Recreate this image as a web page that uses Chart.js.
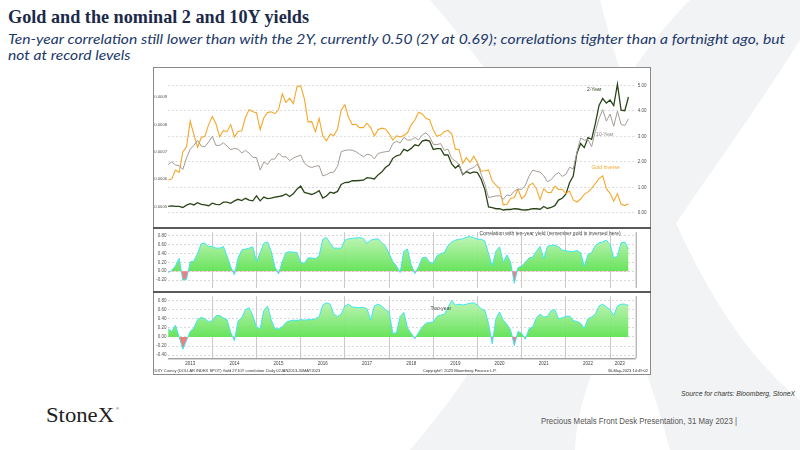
<!DOCTYPE html>
<html><head><meta charset="utf-8">
<script src="https://cdn.jsdelivr.net/npm/chart.js@4.4.0/dist/chart.umd.min.js"></script>
<style>
html,body{margin:0;padding:0;background:#fff;}
body{width:800px;height:450px;position:relative;overflow:hidden;font-family:"Liberation Sans",Arial,sans-serif;}
#wm{position:absolute;left:0;top:0;}
.t{position:absolute;white-space:nowrap;transform-origin:0 0;}
#title{left:8px;top:7px;font-family:"Liberation Serif","DejaVu Serif",serif;font-weight:bold;font-size:19px;line-height:19px;color:#1c2a4a;}
#sub1,#sub2{left:8px;font-family:Lato,"Open Sans",sans-serif;font-style:italic;font-size:14px;line-height:14px;color:#22396a;}
#sub1{top:32px;} #sub2{top:48px;}
#box{position:absolute;left:153px;top:67px;width:496px;height:306px;border:1px solid #8a8a8a;background:#fff;}
.sep{position:absolute;left:153px;width:498px;height:2px;background:#5a5a5a;}
canvas{position:absolute;}
#src{left:681px;top:390px;font-style:italic;font-size:7.5px;line-height:8px;color:#333;}
#pres{left:541px;top:417px;font-size:8.5px;line-height:9px;color:#555;}
#logo{left:46px;top:404px;font-family:"Liberation Serif",serif;font-size:22px;line-height:22px;color:#1e1e1e;}
#reg{left:116px;top:406px;font-size:4px;color:#333;}
</style></head>
<body>
<svg id="wm" width="800" height="450">
  <path fill="#f2f3f5" d="M430,0 L600,0 C640,150 700,320 800,400 L800,450 L670,450 C640,330 560,150 430,0 Z"/>
  <path fill="#f2f3f5" d="M690,0 L800,0 L800,40 C700,200 580,330 575,450 L410,450 C470,380 520,300 560,200 C600,110 650,40 690,0 Z"/>
</svg>
<div id="title" class="t">Gold and the nominal 2 and 10Y yields</div>
<div id="sub1" class="t">Ten-year correlation still lower than with the 2Y, currently 0.50 (2Y at 0.69); correlations tighter than a fortnight ago, but</div>
<div id="sub2" class="t">not at record levels</div>
<div id="box"></div>
<canvas id="c1" width="497" height="161" style="left:153px;top:67px;width:497px;height:161px"></canvas>
<canvas id="c2" width="497" height="64" style="left:153px;top:228px;width:497px;height:64px"></canvas>
<canvas id="c3" width="497" height="82" style="left:153px;top:292px;width:497px;height:82px"></canvas>
<div class="sep" style="top:227px"></div>
<div class="sep" style="top:291px"></div>
<div id="src" class="t">Source for charts: Bloomberg, StoneX</div>
<div id="pres" class="t">Precious Metals Front Desk Presentation, 31 May 2023 |</div>
<div id="logo" class="t">StoneX</div>
<div id="reg" class="t">®</div>
<script>
// ---------- DATA (monthly, starting Jan 2013) ----------
const startYear = 2013;
const goldInverse = [
0.000597,0.000601,0.000633,0.000625,0.000700,0.000719,0.000813,0.000763,0.000717,0.000752,0.000758,0.000800,
0.000830,0.000803,0.000755,0.000778,0.000775,0.000800,0.000755,0.000775,0.000777,0.000826,0.000855,0.000847,
0.000844,0.000781,0.000825,0.000844,0.000847,0.000840,0.000855,0.000913,0.000881,0.000897,0.000877,0.000939,
0.000943,0.000894,0.000810,0.000811,0.000774,0.000823,0.000758,0.000741,0.000765,0.000760,0.000784,0.000853,
0.000873,0.000826,0.000800,0.000801,0.000789,0.000789,0.000805,0.000789,0.000758,0.000781,0.000787,0.000784,
0.000767,0.000743,0.000759,0.000755,0.000760,0.000770,0.000799,0.000817,0.000845,0.000839,0.000823,0.000818,
0.000780,0.000757,0.000762,0.000774,0.000779,0.000766,0.000710,0.000708,0.000658,0.000679,0.000662,0.000684,
0.000659,0.000629,0.000631,0.000634,0.000593,0.000578,0.000566,0.000506,0.000508,0.000530,0.000532,0.000563,
0.000528,0.000541,0.000577,0.000585,0.000565,0.000525,0.000565,0.000551,0.000551,0.000574,0.000561,0.000563,
0.000547,0.000556,0.000524,0.000516,0.000527,0.000544,0.000553,0.000566,0.000584,0.000602,0.000612,0.000565,
0.000548,0.000519,0.000547,0.000508,0.000503,0.000510];
const tenYear = [
1.90,2.00,1.88,1.85,1.70,2.15,2.50,2.65,2.85,2.62,2.60,2.78,
3.00,2.65,2.65,2.75,2.62,2.48,2.53,2.50,2.35,2.45,2.34,2.18,
2.17,1.68,2.00,1.90,2.10,2.12,2.35,2.20,2.20,2.05,2.15,2.21,
2.27,1.95,1.83,1.78,1.83,1.85,1.45,1.50,1.58,1.60,1.83,2.40,
2.45,2.47,2.46,2.40,2.30,2.20,2.30,2.27,2.12,2.33,2.37,2.40,
2.41,2.72,2.81,2.74,2.96,2.86,2.86,2.96,2.86,3.06,3.14,3.00,
2.69,2.68,2.72,2.45,2.50,2.14,2.03,1.90,1.50,1.65,1.73,1.78,
1.92,1.52,1.12,0.60,0.63,0.66,0.67,0.53,0.70,0.68,0.85,0.93,
0.92,1.08,1.44,1.68,1.63,1.60,1.45,1.22,1.30,1.48,1.58,1.43,
1.51,1.79,1.72,2.38,2.94,2.85,2.88,2.60,3.20,3.70,4.05,3.60,
3.88,3.40,3.99,3.47,3.43,3.69];
const twoYear = [
0.25,0.27,0.25,0.25,0.21,0.30,0.36,0.31,0.40,0.33,0.31,0.28,
0.38,0.33,0.32,0.42,0.42,0.37,0.47,0.53,0.48,0.57,0.50,0.47,
0.67,0.47,0.62,0.56,0.58,0.62,0.64,0.67,0.74,0.64,0.75,0.93,
1.05,0.80,0.76,0.72,0.78,0.87,0.58,0.66,0.81,0.77,0.84,1.11,
1.19,1.20,1.26,1.26,1.27,1.28,1.38,1.36,1.33,1.49,1.60,1.78,
1.88,2.14,2.24,2.28,2.49,2.43,2.53,2.67,2.63,2.82,2.86,2.82,
2.49,2.52,2.52,2.27,2.27,1.92,1.76,1.88,1.50,1.62,1.55,1.61,
1.58,1.32,0.91,0.23,0.20,0.16,0.16,0.11,0.13,0.13,0.16,0.15,
0.12,0.11,0.13,0.16,0.16,0.14,0.25,0.17,0.21,0.28,0.50,0.57,
0.73,1.18,1.44,2.34,2.72,2.56,2.95,2.89,3.50,4.22,4.49,4.31,
4.43,4.21,5.05,4.03,4.01,4.55];
const corrTen = [
-0.03,0.02,0.12,0.29,-0.20,-0.18,0.21,0.23,0.40,0.62,0.63,0.56,
0.56,0.52,0.52,0.56,0.35,0.10,-0.08,0.30,0.48,0.50,0.52,0.55,
0.22,0.42,0.63,0.66,0.45,0.10,-0.06,0.22,0.42,0.44,0.43,0.42,
0.20,0.18,0.30,0.30,0.28,0.35,0.72,0.76,0.63,0.52,0.52,0.52,
0.70,0.73,0.74,0.75,0.76,0.74,0.63,0.70,0.72,0.73,0.65,0.57,
0.40,0.22,0.12,-0.03,0.45,0.50,0.15,-0.05,0.10,0.30,0.32,0.20,
0.18,0.35,0.40,0.42,0.58,0.66,0.70,0.72,0.73,0.77,0.78,0.76,
0.72,0.72,0.68,0.40,0.12,0.45,0.55,0.20,0.37,0.20,-0.27,0.08,
0.12,0.20,0.30,0.32,0.45,0.56,0.28,0.56,0.58,0.59,0.55,0.48,
0.46,0.45,0.44,0.47,0.42,0.11,0.38,0.42,0.58,0.64,0.66,0.70,
0.60,0.30,0.35,0.64,0.66,0.50];
const corrTwo = [
0.18,0.12,0.26,0.00,-0.27,-0.08,0.12,0.20,0.38,0.43,0.40,0.33,
0.36,0.47,0.47,0.42,0.38,0.10,-0.08,0.35,0.42,0.60,0.64,0.47,
0.22,0.18,0.58,0.68,0.38,0.18,0.18,0.22,0.32,0.35,0.37,0.36,
0.38,0.37,0.38,0.38,0.40,0.44,0.70,0.75,0.72,0.50,0.45,0.50,
0.68,0.72,0.66,0.65,0.64,0.65,0.62,0.37,0.68,0.72,0.68,0.60,
0.55,0.08,0.09,0.45,0.54,0.20,0.08,-0.04,0.10,0.22,0.30,0.32,
0.33,0.45,0.48,0.50,0.65,0.80,0.70,0.72,0.70,0.72,0.74,0.75,
0.70,0.62,0.58,0.30,-0.15,0.40,0.55,0.37,0.28,0.15,-0.19,0.12,
0.08,-0.05,0.18,0.22,0.42,0.50,0.44,0.45,0.58,0.60,0.40,0.42,
0.45,0.46,0.36,0.34,0.30,0.19,0.40,0.44,0.50,0.68,0.72,0.66,
0.60,0.47,0.68,0.72,0.72,0.69];
const yearLabels = ['2013','2014','2015','2016','2017','2018','2019','2020','2021','2022','2023'];
const goldTicks = [0.0005,0.0006,0.0007,0.0008,0.0009];
const yieldTicks = [0,1,2,3,4,5];
const corrTenTicks = [-0.2,0,0.2,0.4,0.6,0.8];
const corrTwoTicks = [-0.4,-0.2,0,0.2,0.4,0.6,0.8];

// ---------- helpers ----------
const X_MIN = 2013, X_MAX = 2023.58;
const FONT = "'Liberation Sans', Arial, sans-serif";
Chart.defaults.font.family = FONT;
function series(vals){ return vals.map((v,i)=>({x: startYear + i/12, y: v})); }
const tickFont = {size:4.5, family:FONT};
const setTicks = arr => s => { s.ticks = arr.map(v=>({value:v})); };
const yearGridTicks = s => { s.ticks = yearLabels.slice(1).map(l=>({value:+l})); };

function textPlugin(items, yId){
  return {id:'txt', afterDatasetsDraw(chart){
    const {ctx, scales} = chart;
    ctx.save();
    items.forEach(it=>{
      ctx.font = (it.size||5)+'px '+FONT;
      ctx.fillStyle = it.color; ctx.textAlign = it.align||'center'; ctx.textBaseline = 'middle';
      ctx.fillText(it.text, scales.x.getPixelForValue(it.x), scales[yId].getPixelForValue(it.y));
    });
    ctx.restore();
  }};
}
function framePlugin(bottom){
  return {id:'frame', afterDraw(chart){
    const {ctx, chartArea:a} = chart;
    ctx.save(); ctx.strokeStyle = '#9b9b9b'; ctx.lineWidth = 1;
    ctx.beginPath(); ctx.moveTo(a.right+0.5, a.top); ctx.lineTo(a.right+0.5, a.bottom); ctx.stroke();
    if (bottom){ ctx.strokeStyle = '#7a7a7a'; ctx.beginPath(); ctx.moveTo(a.left, a.bottom+0.5); ctx.lineTo(a.right, a.bottom+0.5); ctx.stroke(); }
    ctx.restore();
  }};
}
function corrFill(c){
  const {chart} = c; const {ctx, chartArea:a, scales} = chart;
  if (!a) return 'rgba(110,230,100,0.85)';
  const y0 = scales.y.getPixelForValue(0);
  const f0 = Math.max(0, Math.min(1, (y0 - a.top)/(a.bottom - a.top)));
  const g = ctx.createLinearGradient(0, a.top, 0, a.bottom);
  g.addColorStop(0, 'rgba(200,246,190,0.95)');
  g.addColorStop(f0, 'rgba(96,226,84,0.95)');
  g.addColorStop(Math.min(1, f0+0.001), 'rgba(240,118,118,0.95)');
  g.addColorStop(1, 'rgba(240,118,118,0.95)');
  return g;
}
const baseOpts = {responsive:false, animation:false, events:[], plugins:{legend:{display:false}, tooltip:{enabled:false}}};

// ---------- top panel ----------
new Chart(document.getElementById('c1'), {
  type:'line',
  data:{datasets:[
    {label:'10-Year', data:series(tenYear), yAxisID:'yY', borderColor:'#A39C97', borderWidth:1, pointRadius:0, tension:0},
    {label:'Gold Inverse', data:series(goldInverse), yAxisID:'yG', borderColor:'#F4A82C', borderWidth:1.1, pointRadius:0, tension:0},
    {label:'2-Year', data:series(twoYear), yAxisID:'yY', borderColor:'#2B4519', borderWidth:1.3, pointRadius:0, tension:0}
  ]},
  options:Object.assign({}, baseOpts, {
    layout:{padding:{left:0,right:0,top:1,bottom:1}},
    scales:{
      x:{type:'linear', min:X_MIN, max:X_MAX, display:false},
      yG:{position:'left', min:0.000438, max:0.000994, afterBuildTicks:setTicks(goldTicks), afterFit:s=>{s.width=15.1;},
          grid:{display:false, drawTicks:false}, border:{display:false},
          ticks:{font:{size:4.2, family:FONT}, color:'#505050', padding:1, autoSkip:false, callback:v=>Number(v).toFixed(4)}},
      yY:{position:'right', min:-0.412, max:5.543, afterBuildTicks:setTicks(yieldTicks), afterFit:s=>{s.width=14.3;},
          grid:{color:'#d2d2d2', lineWidth:0.8, drawTicks:false}, border:{display:false, dash:[2,2]},
          ticks:{font:tickFont, color:'#505050', padding:2, autoSkip:false, callback:v=>Number(v).toFixed(2)}}
    }
  }),
  plugins:[textPlugin([
    {text:'2-Year', x:2022.64, y:4.83, color:'#2B4519'},
    {text:'10-Year', x:2022.88, y:3.07, color:'#8d8681'},
    {text:'Gold Inverse', x:2022.9, y:1.78, color:'#F4A82C'}
  ], 'yY')]
});

// ---------- middle panel: 10Y correlation ----------
new Chart(document.getElementById('c2'), {
  type:'line',
  data:{datasets:[{label:'Correlation 10Y', data:series(corrTen), borderColor:'#3EE6EE', borderWidth:1, pointRadius:0, tension:0, fill:'origin', backgroundColor:corrFill}]},
  options:Object.assign({}, baseOpts, {
    layout:{padding:{left:0,right:14.3,top:1.5,bottom:2}},
    scales:{
      x:{type:'linear', min:X_MIN, max:X_MAX, afterBuildTicks:yearGridTicks, afterFit:s=>{s.height=0;},
         ticks:{display:false}, grid:{color:'#c9c9c9', lineWidth:1, drawTicks:false}, border:{display:false}},
      y:{position:'left', min:-0.373, max:0.88, afterBuildTicks:setTicks(corrTenTicks), afterFit:s=>{s.width=15.1;},
         grid:{color:'#cfcfcf', lineWidth:0.8, drawTicks:false}, border:{display:false, dash:[2,2]},
         ticks:{font:tickFont, color:'#505050', padding:1.5, autoSkip:false, callback:v=>Number(v).toFixed(2)}}
    }
  }),
  plugins:[framePlugin(false), textPlugin([
    {text:'Correlation with ten-year yield (remember gold is inversed here)', x:2023.24, y:0.855, color:'#444', align:'right'}
  ], 'y')]
});

// ---------- bottom panel: 2Y correlation ----------
const footerPlugin = {id:'footer', afterDraw(chart){
  const {ctx} = chart;
  ctx.save(); ctx.font = '4px '+FONT; ctx.fillStyle = '#333'; ctx.textBaseline = 'middle';
  ctx.textAlign = 'left'; ctx.fillText('DXY Curncy (DOLLAR INDEX SPOT) Gold 2Y10Y correlation  Daily 02JAN2013-30MAY2023', 1.5, 78.5);
  ctx.fillText('Copyright\u00A9 2023 Bloomberg Finance L.P.', 270, 78.5);
  ctx.textAlign = 'right'; ctx.fillText('30-May-2023 14:49:02', 495, 78.5);
  ctx.restore();
}};
new Chart(document.getElementById('c3'), {
  type:'line',
  data:{datasets:[{label:'Correlation 2Y', data:series(corrTwo), borderColor:'#3EE6EE', borderWidth:1, pointRadius:0, tension:0, fill:'origin', backgroundColor:corrFill}]},
  options:Object.assign({}, baseOpts, {
    layout:{padding:{left:0,right:14.3,top:1.5,bottom:0}},
    scales:{
      x:{type:'linear', min:X_MIN, max:X_MAX, afterBuildTicks:yearGridTicks, afterFit:s=>{s.height=0;},
         ticks:{display:false}, grid:{color:'#c9c9c9', lineWidth:1, drawTicks:false}, border:{display:false}},
      xl:{type:'linear', position:'bottom', min:X_MIN, max:X_MAX,
          afterBuildTicks:s=>{ s.ticks = yearLabels.map((l,i)=>({value: i < yearLabels.length-1 ? +l+0.5 : +l+0.22})); },
          afterFit:s=>{s.height=15.7;},
          grid:{display:false, drawTicks:false}, border:{display:false},
          ticks:{font:tickFont, color:'#404040', padding:3, autoSkip:false, maxRotation:0, callback:v=>String(Math.floor(v))}},
      y:{position:'left', min:-0.469, max:0.895, afterBuildTicks:setTicks(corrTwoTicks), afterFit:s=>{s.width=15.1;},
         grid:{color:'#cfcfcf', lineWidth:0.8, drawTicks:false}, border:{display:false, dash:[2,2]},
         ticks:{font:tickFont, color:'#505050', padding:1.5, autoSkip:false, callback:v=>Number(v).toFixed(2)}}
    }
  }),
  plugins:[framePlugin(true), footerPlugin, textPlugin([
    {text:'Two-year', x:2019.17, y:0.63, color:'#444'}
  ], 'y')]
});

// ---------- fit slide texts to reference widths ----------
function fit(id, w){ const el = document.getElementById(id); const r = el.getBoundingClientRect().width; const k = w/r; el.style.transform = 'scaleX('+k+')'; return k; }
fit('title', 301);
const k = fit('sub1', 777);
document.getElementById('sub2').style.transform = 'scaleX('+k+')';
fit('src', 114);
fit('pres', 196);
fit('logo', 68);
</script>
</body></html>
